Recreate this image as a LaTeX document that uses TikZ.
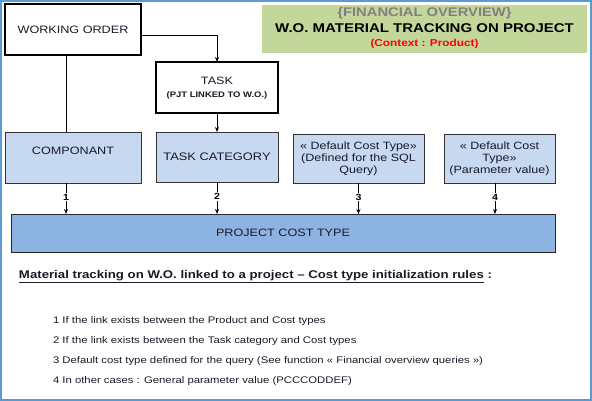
\documentclass[tikz,border=0pt]{standalone}
\usepackage{fontspec}
\setmainfont[FakeStretch=1.18]{Liberation Sans}
\usetikzlibrary{arrows.meta}
\definecolor{frameblue}{RGB}{91,155,213}
\definecolor{boxblue}{RGB}{198,217,240}
\definecolor{projblue}{RGB}{141,179,226}
\definecolor{titlegreen}{RGB}{196,215,155}
\definecolor{txtgray}{RGB}{128,128,128}
\definecolor{txtdark}{RGB}{25,25,40}
\begin{document}
\begin{tikzpicture}[x=1pt,y=-1pt,
  every node/.style={inner sep=0pt,outer sep=0pt},
  plainbox/.style={draw=black,line width=1.1pt,fill=white,align=center},
  bluebox/.style={draw=black!80,line width=0.9pt,fill=boxblue,align=center,text=txtdark},
  conn/.style={line width=0.9pt,draw=black},
  arr/.style={conn,-{Stealth[length=5pt,width=4pt]}},
  numlbl/.style={fill=white,font=\fontsize{9}{10}\selectfont\bfseries,inner sep=1pt},
  listline/.style={anchor=west,font=\fontsize{9.6}{11}\selectfont,text=txtdark}
]
\useasboundingbox (0,0) rectangle (592,401);
\draw[frameblue,line width=1.6pt] (0.8,0.8) rectangle (591.2,400.2);

% title
\node[fill=titlegreen,minimum width=325pt,minimum height=48pt] (title) at (424.5,29) {};
\node[font=\fontsize{12.5}{14}\selectfont\bfseries,text=txtgray] (t1) at (424.5,13.5) {\{FINANCIAL OVERVIEW\}};
\node[font=\fontsize{12.7}{14}\selectfont\bfseries] (t2) at (424.5,28) {W.O. MATERIAL TRACKING ON PROJECT};
\node[font=\fontsize{10}{11}\selectfont\bfseries,text=red] (t3) at (424.5,43.5) {(Context : Product)};

% boxes
\node[plainbox,minimum width=136pt,minimum height=51pt,font=\fontsize{10.7}{13}\selectfont,text=txtdark] (wo) at (73,29.5) {WORKING ORDER};
\node[plainbox,minimum width=122pt,minimum height=51pt] (task) at (217,87.5) {};
\node[font=\fontsize{10.7}{12}\selectfont,text=txtdark] (tasklbl) at (217,80.5) {TASK};
\node[font=\fontsize{8}{9}\selectfont\bfseries,text=txtdark] (tasksub) at (217,95.5) {(PJT LINKED TO W.O.)};

\node[bluebox,minimum width=136pt,minimum height=51pt] (comp) at (73,157.5) {};
\node[font=\fontsize{10.7}{12}\selectfont,text=txtdark] (complbl) at (73,151) {COMPONANT};
\node[bluebox,minimum width=122pt,minimum height=50pt,font=\fontsize{10.9}{13}\selectfont] (tcat) at (217,157) {TASK CATEGORY};
\node[bluebox,minimum width=131pt,minimum height=49pt,font=\fontsize{10.6}{12}\selectfont] (sql) at (358.5,158.5) {« Default Cost Type»\\(Defined for the SQL\\Query)};
\node[bluebox,minimum width=111pt,minimum height=49pt,font=\fontsize{10.6}{12}\selectfont] (param) at (499.5,158.5) {« Default Cost\\Type»\\(Parameter value)};

\node[draw=black!85,line width=1pt,fill=projblue,minimum width=544pt,minimum height=38pt,font=\fontsize{10.7}{12}\selectfont,text=txtdark] (proj) at (283,233) {PROJECT COST TYPE};

% connectors
\draw[arr] ([yshift=-5.5pt]wo.east) -| (task.north);
\draw[arr] (task.south) -- (tcat.north);
\draw[conn] ([xshift=-7pt]wo.south) -- ([xshift=-7pt]comp.north);

\draw[arr] ([xshift=-7pt]comp.south) -- node[numlbl,pos=0.45] (n1) {1} ([xshift=-7pt]comp.south |- proj.north);
\draw[arr] (tcat.south) -- node[numlbl,pos=0.45] (n2) {2} (tcat.south |- proj.north);
\draw[arr] (sql.south) -- node[numlbl,pos=0.45] (n3) {3} (sql.south |- proj.north);
\draw[arr] ([xshift=-4.5pt]param.south) -- node[numlbl,pos=0.45] (n4) {4} ([xshift=-4.5pt]param.south |- proj.north);

% text
\node[anchor=west,font=\fontsize{11.2}{12}\selectfont\bfseries,text=txtdark] (head) at (19,277) {\underline{Material tracking on W.O. linked to a project – Cost type initialization rules} :};
\node[listline] (l1) at (53,321) {1 If the link exists between the Product and Cost types};
\node[listline] (l2) at (53,341) {2 If the link exists between the Task category and Cost types};
\node[listline] (l3) at (53,361) {3 Default cost type defined for the query (See function « Financial overview queries »)};
\node[listline] (l4) at (53,381) {4 In other cases : General parameter value (PCCCODDEF)};
\end{tikzpicture}
\end{document}
